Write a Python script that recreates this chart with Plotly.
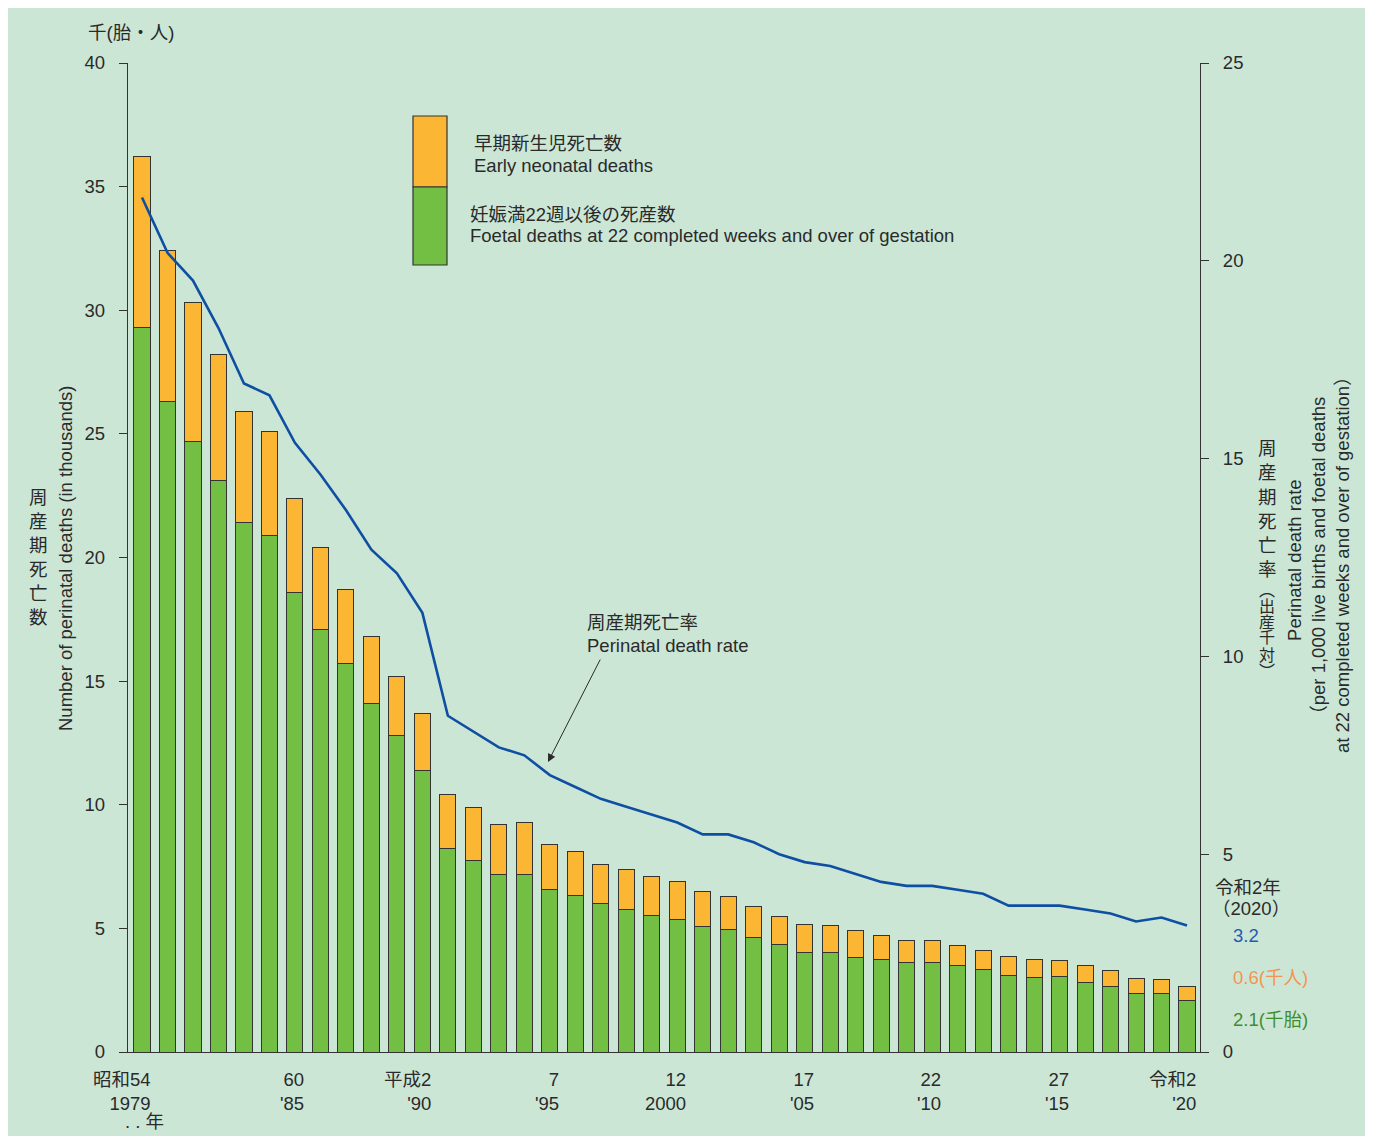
import plotly.graph_objects as go

# ---------------- data ----------------
years = list(range(1979, 2021))

# 妊娠満22週以後の死産数 (thousands)
foetal_deaths = [29.3, 26.3, 24.7, 23.1, 21.4, 20.9, 18.6, 17.1, 15.7, 14.1,
                 12.8, 11.4, 8.24, 7.75, 7.19, 7.19, 6.57, 6.31, 5.99, 5.78,
                 5.54, 5.34, 5.08, 4.95, 4.62, 4.34, 4.04, 4.03, 3.84, 3.73,
                 3.63, 3.62, 3.48, 3.32, 3.10, 3.02, 3.05, 2.82, 2.66, 2.37,
                 2.35, 2.09]

# 早期新生児死亡数 (thousands)
early_neonatal_deaths = [6.9, 6.1, 5.6, 5.1, 4.5, 4.2, 3.8, 3.3, 3.0, 2.7,
                         2.4, 2.3, 2.16, 2.15, 2.01, 2.11, 1.83, 1.79, 1.61, 1.62,
                         1.56, 1.56, 1.42, 1.35, 1.28, 1.16, 1.11, 1.07, 1.06, 0.97,
                         0.87, 0.88, 0.82, 0.79, 0.76, 0.71, 0.66, 0.69, 0.64, 0.61,
                         0.59, 0.57]

# 周産期死亡率 (per 1,000)
perinatal_rate = [21.6, 20.2, 19.5, 18.3, 16.9, 16.6, 15.4, 14.6, 13.7, 12.7,
                  12.1, 11.1, 8.5, 8.1, 7.7, 7.5, 7.0, 6.7, 6.4, 6.2,
                  6.0, 5.8, 5.5, 5.5, 5.3, 5.0, 4.8, 4.7, 4.5, 4.3,
                  4.2, 4.2, 4.1, 4.0, 3.7, 3.7, 3.7, 3.6, 3.5, 3.3,
                  3.4, 3.2]

tick_years = [1979, 1985, 1990, 1995, 2000, 2005, 2010, 2015, 2020]
tick_era = ["昭和54", "60", "平成2", "7", "12", "17", "22", "27", "令和2"]
tick_west = ["1979", "'85", "'90", "'95", "2000", "'05", "'10", "'15", "'20"]

left_ticks = [0, 5, 10, 15, 20, 25, 30, 35, 40]
right_ticks = [0, 5, 10, 15, 20, 25]

# ---------------- styling ----------------
OFF = 8                       # page body margin
W, H = 1373 - OFF, 1137 - OFF
L, R, T, B = 128, 1200, 63, 1052  # plot area in reference-page pixels
FONT = "Liberation Sans, Arial, Noto Sans CJK JP, sans-serif"
TXT = "#2a2a2a"
ORANGE = "#FBB733"
GREEN = "#72BF44"
BLUE = "#0F4FA3"
BG = "#CCE6D6"
OUTLINE = "#333333"
FS = 18.5


def px(p):
    return (p - L) / (R - L)


def py(p):
    return (B - p) / (B - T)


fig = go.Figure()
fig.add_trace(go.Bar(x=years, y=foetal_deaths, width=0.63,
                     marker=dict(color=GREEN, line=dict(color=OUTLINE, width=1)),
                     name="foetal", showlegend=False))
fig.add_trace(go.Bar(x=years, y=early_neonatal_deaths, width=0.63,
                     marker=dict(color=ORANGE, line=dict(color=OUTLINE, width=1)),
                     name="neonatal", showlegend=False))
fig.add_trace(go.Scatter(x=years, y=perinatal_rate, yaxis="y2", mode="lines",
                         line=dict(color=BLUE, width=2.6), showlegend=False))

ann = []


def text(x, y, s, size=FS, color=TXT, xanchor="left", yanchor="middle", align="left", angle=0):
    ann.append(dict(x=px(x), y=py(y), xref="paper", yref="paper", text=s,
                    showarrow=False, xanchor=xanchor, yanchor=yanchor, align=align,
                    textangle=angle, font=dict(size=size, color=color, family=FONT)))


# unit label
text(86, 33, "千(胎・人)")

# left axis titles
for i, ch in enumerate("周産期死亡数"):
    text(38, 497 + i * 24, ch, xanchor="center")
text(65, 558, "Number of perinatal deaths (in thousands)", xanchor="center", angle=-90)

# right axis titles
right_chars = ["周", "産", "期", "死", "亡", "率", "︵", "出", "産", "千", "対", "︶"]
right_y = [448, 472, 497, 521, 545, 569, 590, 606, 622, 638, 655, 671]
right_size = [FS, FS, FS, FS, FS, FS, 16, 16, 16, 16, 16, 16]
for ch, yy, sz in zip(right_chars, right_y, right_size):
    text(1267, yy, ch, size=sz, xanchor="center")
text(1318, 560, "Perinatal death rate<br>（per 1,000 live births and foetal deaths<br>at 22 completed weeks and over of gestation）",
     xanchor="center", align="center", angle=-90)

# legend texts
text(472, 143, "早期新生児死亡数")
text(472, 165, "Early neonatal deaths")
text(468, 214, "妊娠満22週以後の死産数")
text(468, 236, "Foetal deaths at 22 completed weeks and over of gestation")

# line label
text(585, 622, "周産期死亡率")
text(585, 645, "Perinatal death rate")
ann.append(dict(x=px(548), y=py(762), xref="paper", yref="paper", ax=53, ay=-104,
                axref="pixel", ayref="pixel", showarrow=True, arrowhead=2, arrowsize=1.6,
                arrowwidth=1, arrowcolor=TXT, standoff=0, text=""))

# 2020 values
text(1213, 887, "令和2年")
text(1210, 908, "（2020）")
text(1231, 935, "3.2", color="#1F5BB8")
text(1231, 977, "0.6(千人)", color="#F39552")
text(1231, 1019, "2.1(千胎)", color="#3F8E2E")

# x tick labels
for yr, e, w in zip(tick_years, tick_era, tick_west):
    ann.append(dict(x=yr, y=py(1091), xref="x", yref="paper", text=e + "<br>" + w,
                    showarrow=False, xanchor="right", yanchor="middle", align="right",
                    xshift=11, font=dict(size=FS, color=TXT, family=FONT)))
text(166, 1121, ". . 年", xanchor="right")

shapes = [
    dict(type="rect", xref="paper", yref="paper", x0=px(6), x1=px(1368), y0=py(1136), y1=py(8),
         fillcolor=BG, line=dict(width=0), layer="below"),
    dict(type="rect", xref="paper", yref="paper", x0=px(413), x1=px(447), y0=py(187), y1=py(116),
         fillcolor=ORANGE, line=dict(color=OUTLINE, width=1.2)),
    dict(type="rect", xref="paper", yref="paper", x0=px(413), x1=px(447), y0=py(265), y1=py(187),
         fillcolor=GREEN, line=dict(color=OUTLINE, width=1.2)),
]

fig.update_layout(
    width=W, height=H,
    margin=dict(l=L - OFF, r=1373 - R, t=T - OFF, b=1137 - B, pad=0),
    paper_bgcolor="white", plot_bgcolor="rgba(0,0,0,0)",
    barmode="stack", showlegend=False,
    font=dict(family=FONT, size=FS, color=TXT),
    xaxis=dict(range=[1978.45, 2020.51], showline=True, linecolor=OUTLINE, linewidth=1.3,
               ticks="", showticklabels=False, showgrid=False, zeroline=False, fixedrange=True),
    yaxis=dict(range=[0, 40], tickvals=left_ticks, ticks="outside", ticklen=8, tickwidth=1.2,
               tickcolor=OUTLINE, showline=True, linecolor=OUTLINE, linewidth=1.3,
               showgrid=False, zeroline=False, ticklabelstandoff=10,
               tickfont=dict(size=FS, color=TXT, family=FONT)),
    yaxis2=dict(range=[0, 25], tickvals=right_ticks, overlaying="y", side="right", anchor="x",
                ticks="outside", ticklen=8, tickwidth=1.2, tickcolor=OUTLINE, showline=True,
                linecolor=OUTLINE, linewidth=1.3, showgrid=False, zeroline=False,
                ticklabelstandoff=10, tickfont=dict(size=FS, color=TXT, family=FONT)),
    annotations=ann, shapes=shapes,
)

fig.write_html("out.html")
